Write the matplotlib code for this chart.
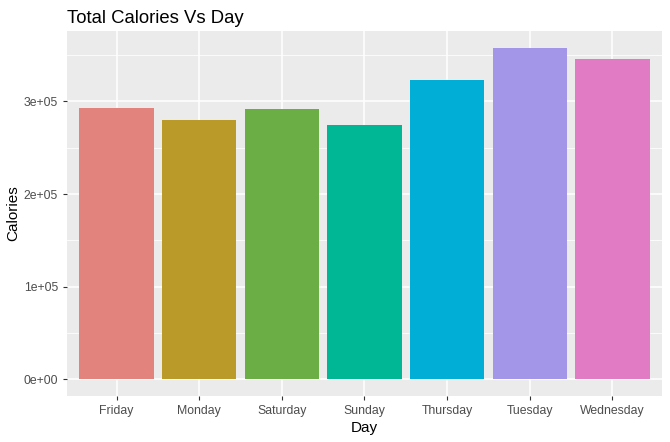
import matplotlib
matplotlib.use("Agg")
import matplotlib.pyplot as plt
from matplotlib.ticker import FixedLocator

days = ["Friday", "Monday", "Saturday", "Sunday", "Thursday", "Tuesday", "Wednesday"]
calories = [293400, 279700, 292300, 274000, 323600, 358100, 345200]
colors = ["#E2837D", "#BA9A28", "#6BAE45", "#00B795", "#00AED6", "#A395E8", "#E17BC4"]
ytick_vals = [0, 100000, 200000, 300000]
ytick_labels = ["0e+00", "1e+05", "2e+05", "3e+05"]

plt.rcParams['font.family'] = ['Liberation Sans', 'DejaVu Sans']

fig = plt.figure(figsize=(6.7, 4.42), dpi=100)
ax = fig.add_axes([0.1, 0.104, 0.888, 0.826])
ax.set_facecolor("#EBEBEB")

x = list(range(len(days)))
ax.bar(x, calories, width=0.9, color=colors, zorder=3)

ymax = max(calories)
ax.set_ylim(-0.05 * ymax, 1.05 * ymax)
ax.set_xlim(-0.6, len(days) - 0.4)

ax.yaxis.set_major_locator(FixedLocator(ytick_vals))
ax.set_yticklabels(ytick_labels)
ax.yaxis.set_minor_locator(FixedLocator([50000, 150000, 250000, 350000]))
ax.set_xticks(x)
ax.set_xticklabels(days)

ax.grid(which="major", color="white", linewidth=1.1, zorder=0)
ax.grid(which="minor", axis="y", color="white", linewidth=0.55, zorder=0)
for s in ax.spines.values():
    s.set_visible(False)

ax.tick_params(axis="both", which="major", length=3, width=0.8, color="#333333",
               labelsize=8.8, labelcolor="#4D4D4D", pad=3.5)
ax.tick_params(axis="both", which="minor", length=0)

ax.set_xlabel("Day", fontsize=11, color="black", labelpad=3)
ax.set_ylabel("Calories", fontsize=11, color="black", labelpad=2)
ax.set_title("Total Calories Vs Day", fontsize=13.3, loc="left", pad=6, color="black")

fig.savefig("out.png", dpi=100, facecolor="white")
